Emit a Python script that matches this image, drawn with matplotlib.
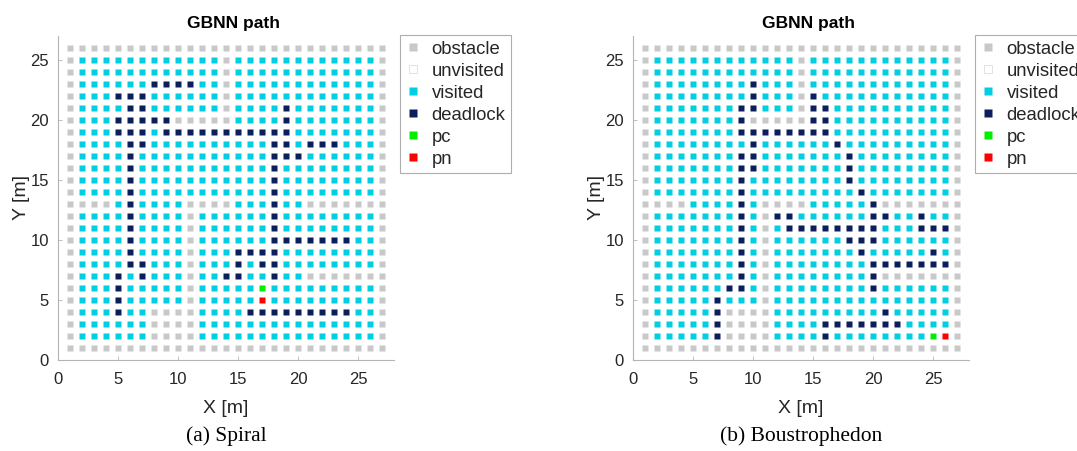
import matplotlib
matplotlib.use("Agg")
import matplotlib.pyplot as plt
from matplotlib.lines import Line2D

# -----------------------------
# Grid maps, rows from y=26 (top) down to y=1, columns x=1..27
#   '#' obstacle, '.' visited, 'D' deadlock, 'C' pc, 'N' pn, 'u' unvisited
# -----------------------------
spiral_rows = [
    "###########################",
    "#............#............#",
    "#............#............#",
    "#......DDDD..#............#",
    "#...DDD......#............#",
    "#....DD......#....D.......#",
    "#...DDDDD#####....D.......#",
    "#...DDD.DDDDDDDDDDD.......#",
    "#....DD..........DD.DDD...#",
    "#....D...........DDD......#",
    "#....D...........D........#",
    "#....D...........D........#",
    "#....D...........D........#",
    "####.D....####...D..#######",
    "#....D....#......D........#",
    "#....D....#......D........#",
    "#....D....#......DDDDDDD..#",
    "#....D....#...DDDD........#",
    "#....DD...#...D.DD........#",
    "#...D.D...#..DD..D..#######",
    "#...D.....#.....C.........#",
    "#...D.....#.....N.........#",
    "#...D..####....DDDDDDDDD..#",
    "#......####...............#",
    "#......####...............#",
    "###########################",
]

boustro_rows = [
    "###########################",
    "#............#............#",
    "#............#............#",
    "#........D...#............#",
    "#........D...#D...........#",
    "#.......DD...#DD..........#",
    "#.......D#####DD..........#",
    "#.......DDDDDDDD..........#",
    "#........D......D.........#",
    "#.......DD.......D........#",
    "#.......DD.......D........#",
    "#.......D........D........#",
    "#.......D.........D.......#",
    "####....D.####.....D#######",
    "#.......D.#DD......DD..D..#",
    "#.......D.#.DDDDDDDD...DDD#",
    "#.......D.#......DDD......#",
    "#.......D.#.......D.....D.#",
    "#.......D.#........DDDDDDD#",
    "#.......D.#........D#######",
    "#......DD.#........D......#",
    "#.....D...#...............#",
    "#.....D####.........D.....#",
    "#.....D####....DDDDDDD....#",
    "#.....D####....D........CN#",
    "###########################",
]

titles = ["GBNN path", "GBNN path"]
captions = ["(a) Spiral", "(b) Boustrophedon"]
ticks = [0, 5, 10, 15, 20, 25]

# cell kinds in legend order
kinds = ["#", "u", ".", "D", "C", "N"]
labels = ["obstacle", "unvisited", "visited", "deadlock", "pc", "pn"]
colors = {"#": "#c8c8c8", "u": "#ffffff", ".": "#00cfe3",
          "D": "#0b1f5c", "C": "#00ee00", "N": "#ff0000"}

MS = 3.9

fig = plt.figure(figsize=(10.77, 4.51), dpi=100)
plt.rcParams["font.family"] = ["Liberation Sans", "DejaVu Sans"]

W, H = 1077, 451
lefts = [58, 633]
for k, rows in enumerate([spiral_rows, boustro_rows]):
    ax = fig.add_axes([lefts[k] / W, (H - 360) / H, 336 / W, 324 / H])

    n = len(rows)
    for kind in kinds:
        xs, ys = [], []
        for r, row in enumerate(rows):
            for c, ch in enumerate(row):
                if ch == kind:
                    xs.append(c + 1)
                    ys.append(n - r)
        if xs:
            ax.plot(xs, ys, "s", ms=MS, color=colors[kind], mec="none")

    ax.set_xlim(0, 28)
    ax.set_ylim(0, 27)
    ax.set_xticks(ticks)
    ax.set_yticks(ticks)
    ax.tick_params(labelsize=12, labelcolor="#262626", direction="in",
                   length=3, width=0.6, color="#b4b4b4")
    ax.tick_params(axis="x", pad=8.5)
    ax.tick_params(axis="y", pad=6.5)
    for side in ["top", "right"]:
        ax.spines[side].set_visible(False)
    for side in ["left", "bottom"]:
        ax.spines[side].set_color("#b4b4b4")
        ax.spines[side].set_linewidth(0.8)

    ax.set_xlabel("X [m]", fontsize=14, color="#262626", labelpad=9.5)
    ax.set_ylabel("Y [m]", fontsize=14, color="#262626", labelpad=0.5)
    ax.set_title(titles[k], fontsize=12.5, fontweight="bold", pad=6, x=0.521)

    handles = [Line2D([], [], ls="none", marker="s", ms=5.5,
                      color=colors[kd],
                      mec="#dddddd" if kd == "u" else "none",
                      mew=0.6)
               for kd in kinds]
    leg = ax.legend(handles, labels, loc="upper left",
                    bbox_to_anchor=(1.018, 1.003), fontsize=13.3,
                    frameon=True, fancybox=False, borderpad=0.3,
                    labelspacing=0.27, handlelength=0.8, handletextpad=0.6,
                    borderaxespad=0)
    leg.get_frame().set_edgecolor("#999999")
    leg.get_frame().set_linewidth(0.8)
    for t in leg.get_texts():
        t.set_color("#262626")

    fig.text((lefts[k] + 168) / W, (H - 436) / H, captions[k],
             ha="center", va="center", fontsize=15.5,
             family="Liberation Serif")

fig.savefig("out.png", dpi=100)
